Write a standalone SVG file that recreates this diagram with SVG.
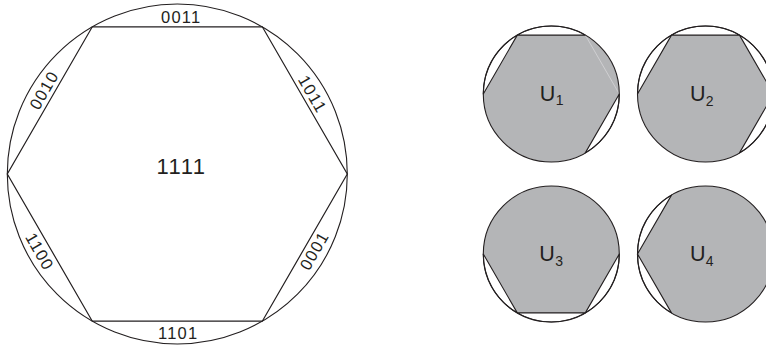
<svg xmlns="http://www.w3.org/2000/svg" width="766" height="350" viewBox="0 0 766 350">
<style>
.ln{fill:none;stroke:#231f20;stroke-width:1.2}
.circ{fill:none;stroke:#231f20;stroke-width:1.1}
.gray{fill:#b4b5b7;stroke:none}
.wseg{fill:#ffffff;stroke:#231f20;stroke-width:1.1;stroke-linejoin:round}
.lbl{font-family:"Liberation Sans",Arial,sans-serif;font-size:16.5px;fill:#231f20;text-anchor:middle;letter-spacing:1.2px}
.big{font-family:"Liberation Sans",Arial,sans-serif;font-size:22px;fill:#231f20;text-anchor:middle;letter-spacing:1.5px}
.u{font-family:"Liberation Sans",Arial,sans-serif;font-size:21.5px;fill:#231f20}
.sub{font-size:14px}
</style>
<defs>
<path id="s-top" d="M-34,-58.89 A68,68 0 0 1 34,-58.89 Z"/>
<path id="s-ur" d="M34,-58.89 A68,68 0 0 1 68,0 Z"/>
<path id="s-lr" d="M68,0 A68,68 0 0 1 34,58.89 Z"/>
<path id="s-b" d="M34,58.89 A68,68 0 0 1 -34,58.89 Z"/>
<path id="s-ll" d="M-34,58.89 A68,68 0 0 1 -68,0 Z"/>
<path id="s-ul" d="M-68,0 A68,68 0 0 1 -34,-58.89 Z"/>
</defs>

<g id="main">
<circle class="circ" cx="177.3" cy="174" r="170"/>
<polygon class="ln" points="347.3,174 262.3,321.2 92.3,321.2 7.3,174 92.3,26.8 262.3,26.8"/>
<text class="big" x="181.5" y="174">1111</text>
<text class="lbl" x="181.2" y="22.7">0011</text>
<text class="lbl" x="178.2" y="339">1101</text>
<text class="lbl" transform="translate(49,93) rotate(-60)">0010</text>
<text class="lbl" transform="translate(307.5,97) rotate(60)">1011</text>
<text class="lbl" transform="translate(319.3,253.5) rotate(-60)">0001</text>
<text class="lbl" transform="translate(34.7,254.5) rotate(60)">1100</text>
</g>

<g id="U1" transform="translate(551.3,94)">
<circle class="gray" r="68"/>
<use href="#s-top" class="wseg"/>
<use href="#s-ul" class="wseg"/>
<use href="#s-lr" class="wseg"/>
<line x1="34" y1="-58.89" x2="68" y2="0" stroke="#d6d6d8" stroke-width="0.8"/>
<circle class="circ" r="68"/>
<text class="u" x="-11.5" y="6.7">U<tspan class="sub" dx="0.3" dy="4.5">1</tspan></text>
</g>

<g id="U2" transform="translate(705.5,94)">
<circle class="gray" r="68"/>
<use href="#s-top" class="wseg"/>
<use href="#s-ul" class="wseg"/>
<use href="#s-ur" class="wseg"/>
<use href="#s-lr" class="wseg"/>
<circle class="circ" r="68"/>
<text class="u" x="-15.5" y="7">U<tspan class="sub" dx="0.3" dy="4.5">2</tspan></text>
</g>

<g id="U3" transform="translate(551.3,254)">
<circle class="gray" r="68"/>
<use href="#s-lr" class="wseg"/>
<use href="#s-b" class="wseg"/>
<use href="#s-ll" class="wseg"/>
<circle class="circ" r="68"/>
<text class="u" x="-12" y="7">U<tspan class="sub" dx="0.3" dy="4.5">3</tspan></text>
</g>

<g id="U4" transform="translate(705.5,254)">
<circle class="gray" r="68"/>
<use href="#s-ul" class="wseg"/>
<use href="#s-ll" class="wseg"/>
<circle class="circ" r="68"/>
<text class="u" x="-15.5" y="7">U<tspan class="sub" dx="0.3" dy="4.5">4</tspan></text>
</g>
</svg>
